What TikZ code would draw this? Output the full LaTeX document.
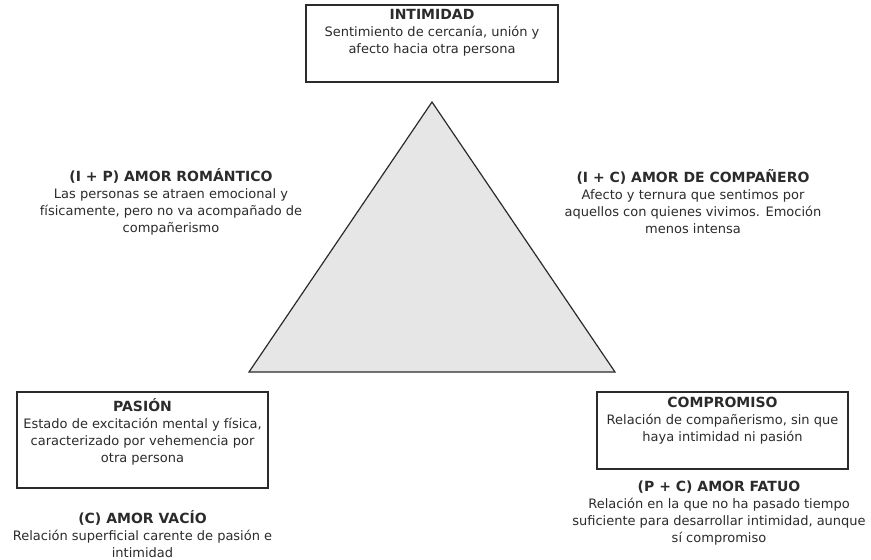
\documentclass[tikz,border=0pt]{standalone}
\usepackage{fontspec}
\setmainfont{DejaVu Sans}
\usepackage{tikz}
\usetikzlibrary{positioning}

\definecolor{inkgray}{HTML}{2B2B2B}
\definecolor{trifill}{HTML}{E6E6E6}

\begin{document}
\begin{tikzpicture}[
    x=1pt, y=-1pt,
    every node/.style={text=inkgray, font=\fontsize{13}{17}\selectfont},
    boxed/.style={draw=inkgray, line width=1.4pt, inner sep=0pt},
    info/.style={align=center, anchor=north, inner sep=0pt}
]
    \useasboundingbox (0,0) rectangle (871,560);

    % triangle
    \coordinate (top) at (432,102);
    \coordinate (left) at (249,372);
    \coordinate (right) at (615,372);
    \draw[fill=trifill, draw=inkgray, line width=1.2pt, line join=miter] (top) -- (left) -- (right) -- cycle;

    % vertex boxes
    \node[boxed, minimum width=252pt, minimum height=77pt] (intimidad) at (432,43.5) {};
    \node[boxed, minimum width=251pt, minimum height=96pt] (pasion) at (142.5,440) {};
    \node[boxed, minimum width=251pt, minimum height=77pt] (compromiso) at (722.5,430.5) {};

    \newcommand\hd[1]{{\bfseries\fontsize{14}{17}\selectfont #1}}
    \node[info] (intimidadtxt) at (432,9) {\hd{INTIMIDAD}\\Sentimiento de cercanía, unión y\\afecto hacia otra persona};
    \node[info] (pasiontxt) at (142.5,398) {\hd{PASIÓN}\\Estado de excitación mental y física,\\caracterizado por vehemencia por\\otra persona};
    \node[info] (compromisotxt) at (722.5,397) {\hd{COMPROMISO}\\Relación de compañerismo, sin que\\haya intimidad ni pasión};

    % combinations
    \node[info] (romantico) at (171,168) {\hd{(I + P) AMOR ROMÁNTICO}\\Las personas se atraen emocional y\\físicamente, pero no va acompañado de\\compañerismo};
    \node[info] (companero) at (693,169) {\hd{(I + C) AMOR DE COMPAÑERO}\\Afecto y ternura que sentimos por\\aquellos con quienes vivimos. Emoción\\menos intensa};
    \node[info] (vacio) at (142.5,510) {\hd{(C) AMOR VACÍO}\\Relación superficial carente de pasión e\\intimidad};
    \node[info] (fatuo) at (719,481) {\hd{(P + C) AMOR FATUO}\\Relación en la que no ha pasado tiempo\\suficiente para desarrollar intimidad, aunque\\sí compromiso};
\end{tikzpicture}
\end{document}
